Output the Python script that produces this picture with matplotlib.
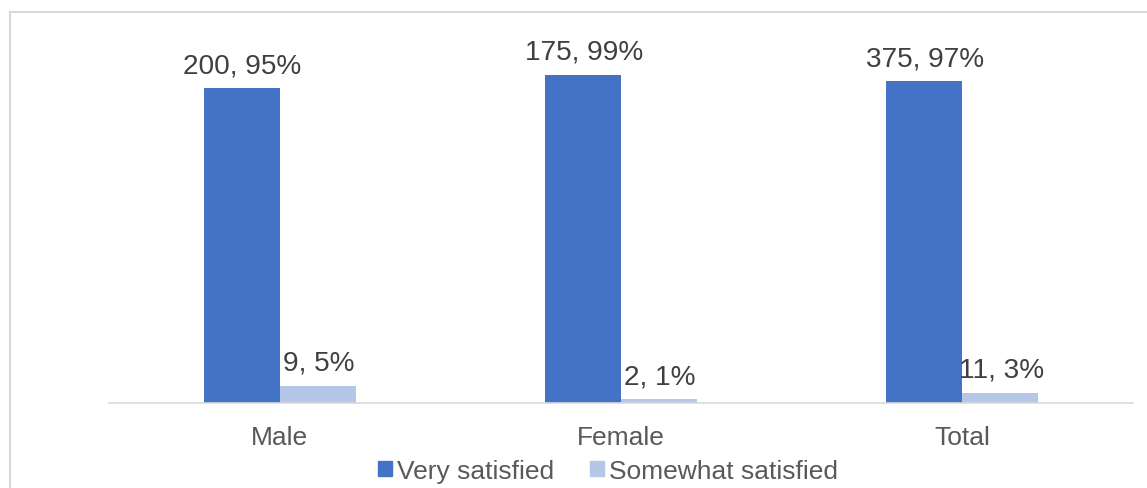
import matplotlib
matplotlib.use("Agg")
import matplotlib.pyplot as plt
import numpy as np
from matplotlib.patches import Rectangle
from matplotlib.lines import Line2D

categories = ["Male", "Female", "Total"]
series_names = ["Very satisfied", "Somewhat satisfied"]
very_counts = [200, 175, 375]
very_pct = [95, 99, 97]
somewhat_counts = [9, 2, 11]
somewhat_pct = [5, 1, 3]

colors = ["#4472C4", "#B4C7E7"]
label_color = "#404040"
axis_text_color = "#595959"
grid_color = "#D9D9D9"

plt.rcParams["font.family"] = ["Liberation Sans", "DejaVu Sans"]

W, H, DPI = 1147, 489, 100
fig = plt.figure(figsize=(W / DPI, H / DPI), dpi=DPI)

# plot area in pixel coordinates
left_px, right_px = 109, 1133
base_px, top_px = 403.5, 13
ax = fig.add_axes([left_px / W, 1 - base_px / H,
                   (right_px - left_px) / W, (base_px - top_px) / H])

px_per_unit = 3.31
ax.set_ylim(0, (base_px - top_px) / px_per_unit)
x = np.arange(len(categories))
ax.set_xlim(-0.5, len(categories) - 0.5)

bw = 0.223
series = [(very_pct, very_counts), (somewhat_pct, somewhat_counts)]
for i, (pct, cnt) in enumerate(series):
    offs = (i - 0.5) * bw
    bars = ax.bar(x + offs, pct, width=bw, color=colors[i],
                  label=series_names[i], zorder=2)
    for b, p, c in zip(bars, pct, cnt):
        ax.annotate(f"{c}, {p}%",
                    xy=(b.get_x() + b.get_width() / 2, b.get_height()),
                    xytext=(0.5, 11.5), textcoords="offset points",
                    ha="center", va="baseline", fontsize=20.2,
                    color=label_color)

for s in ["top", "right", "left"]:
    ax.spines[s].set_visible(False)
ax.spines["bottom"].set_color(grid_color)
ax.spines["bottom"].set_linewidth(1.2)
ax.set_yticks([])
ax.set_xticks(x)
ax.set_xticklabels(categories, fontsize=19, color=axis_text_color)
ax.tick_params(axis="x", length=0, pad=16.5)

handles = [Rectangle((0, 0), 1, 1, color=c) for c in colors]
fig.legend(handles, series_names, loc="center",
           bbox_to_anchor=(608 / W, 1 - 472 / H), ncol=2, frameon=False,
           fontsize=19, labelcolor=axis_text_color,
           handlelength=0.53, handleheight=0.53, handletextpad=0.19,
           columnspacing=1.35, borderpad=0, borderaxespad=0)

# chart frame (only left and top edges fall inside the canvas)
fig.add_artist(Line2D([10 / W, 10 / W], [1 - 13 / H, 0], color=grid_color,
                      linewidth=1.5, transform=fig.transFigure))
fig.add_artist(Line2D([10 / W, 1], [1 - 13 / H, 1 - 13 / H], color=grid_color,
                      linewidth=1.5, transform=fig.transFigure))

fig.savefig("out.png", dpi=DPI, facecolor="white")
